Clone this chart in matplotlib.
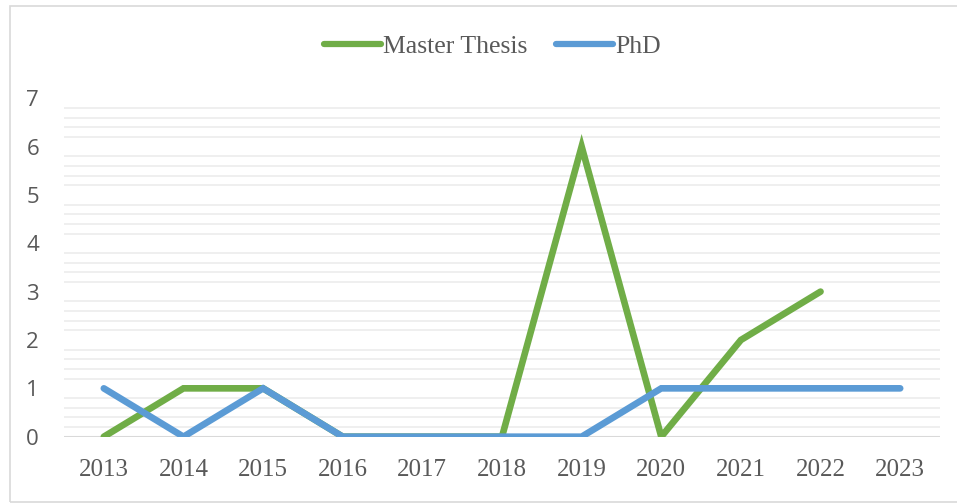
import matplotlib.pyplot as plt
import numpy as np
from matplotlib.patches import Rectangle

years = ['2013', '2014', '2015', '2016', '2017', '2018', '2019', '2020', '2021', '2022', '2023']
master = [0, 1, 1, 0, 0, 0, 6, 0, 2, 3, np.nan]
phd = [1, 0, 1, 0, 0, 0, 0, 1, 1, 1, 1]

green = '#70AD47'
blue = '#5B9BD5'
serif = ['Liberation Serif', 'DejaVu Serif']

fig = plt.figure(figsize=(9.57, 5.03), dpi=100)
fig.patches.append(Rectangle((9.5/957, 1 - 501.5/503), 1.0, 495.5/503, transform=fig.transFigure,
                             fill=False, edgecolor='#d9d9d9', linewidth=1.2))
ax = fig.add_axes([64/957, 1 - 436.7/503, 876/957, 338.5/503])

x = np.arange(len(years))
# minor gridlines every 0.2, the integer lines are not drawn
for v in np.arange(0.2, 7.0, 0.2):
    if abs(v - round(v)) > 0.01:
        ax.axhline(v, color='#eeeeee', linewidth=1.3, zorder=0)
ax.axhline(0, color='#d9d9d9', linewidth=1.5, zorder=1)

ax.plot(x, master, color=green, linewidth=4.8, solid_capstyle='round', solid_joinstyle='miter', label='Master Thesis', zorder=2)
ax.plot(x, phd, color=blue, linewidth=4.8, solid_capstyle='round', solid_joinstyle='miter', label='PhD', zorder=3)

ax.set_xlim(-0.5, len(years) - 0.5)
ax.set_ylim(0, 7)
ax.set_xticks(x)
ax.set_xticklabels(years, family=serif, fontsize=18, color='#595959')
ax.set_yticks(range(8))
ax.set_yticklabels([str(i) for i in range(8)], family='Open Sans', fontsize=16, color='#595959')
ax.tick_params(length=0)
ax.tick_params(axis='x', pad=16)
ax.tick_params(axis='y', pad=18)
for s in ax.spines.values():
    s.set_visible(False)

leg = fig.legend(loc='center', bbox_to_anchor=(0.5 + 14/957, 1 - 47/503), ncol=2, frameon=False,
                 prop={'family': serif, 'size': 18.5}, handlelength=2.2, handletextpad=0.1,
                 columnspacing=1.1, labelcolor='#595959')
for t in leg.get_lines():
    t.set_solid_capstyle('round')
    t.set_linewidth(4.5)

fig.savefig('out.png', dpi=100)
